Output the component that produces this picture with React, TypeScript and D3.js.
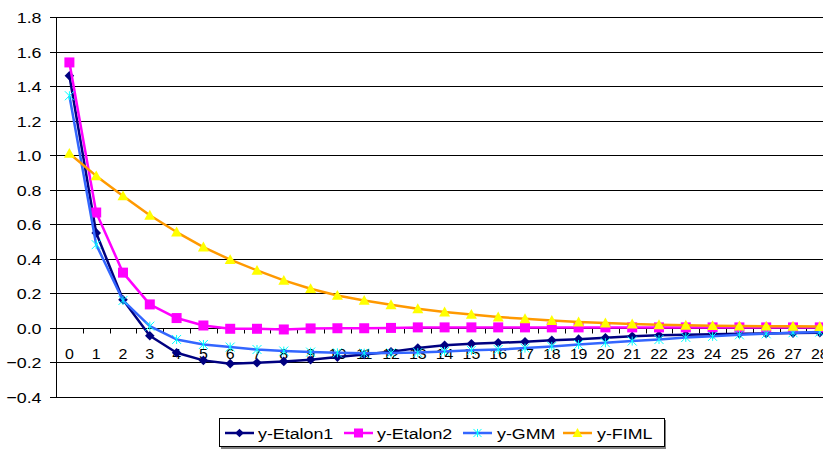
import React from "react";
import * as d3 from "d3";

const categories: number[] = d3.range(0, 29);

const etalon1: number[] = [
  1.46, 0.55, 0.163, -0.045, -0.144, -0.188, -0.207, -0.202, -0.194, -0.184,
  -0.169, -0.154, -0.138, -0.117, -0.101, -0.092, -0.086, -0.08, -0.072, -0.065,
  -0.057, -0.049, -0.043, -0.04, -0.037, -0.034, -0.032, -0.03, -0.028,
];
const etalon2: number[] = [
  1.537, 0.668, 0.32, 0.136, 0.057, 0.014, -0.005, -0.005, -0.009, -0.003,
  -0.002, -0.002, 0.0, 0.003, 0.003, 0.003, 0.003, 0.003, 0.003, 0.003,
  0.003, 0.003, 0.003, 0.003, 0.003, 0.003, 0.003, 0.003, 0.003,
];
const gmm: number[] = [
  1.344, 0.482, 0.159, 0.01, -0.067, -0.096, -0.111, -0.125, -0.134, -0.14,
  -0.144, -0.146, -0.145, -0.143, -0.136, -0.13, -0.125, -0.117, -0.107, -0.096,
  -0.086, -0.076, -0.067, -0.055, -0.049, -0.04, -0.034, -0.028, -0.024,
];
const fiml: number[] = [
  1.01, 0.88, 0.764, 0.652, 0.555, 0.468, 0.395, 0.333, 0.275, 0.227,
  0.188, 0.159, 0.134, 0.111, 0.092, 0.078, 0.063, 0.053, 0.043, 0.034,
  0.028, 0.022, 0.018, 0.015, 0.013, 0.011, 0.01, 0.009, 0.008,
];

const yTicks: number[] = [-0.4, -0.2, 0, 0.2, 0.4, 0.6, 0.8, 1.0, 1.2, 1.4, 1.6, 1.8];
const seriesNames: string[] = ["y-Etalon1", "y-Etalon2", "y-GMM", "y-FIML"];

type Marker = "diamond" | "square" | "cross" | "triangle";
const seriesStyle: { line: string; fill: string; marker: Marker }[] = [
  { line: "#000080", fill: "#000080", marker: "diamond" },
  { line: "#FF00FF", fill: "#FF00FF", marker: "square" },
  { line: "#3366FF", fill: "#00FFFF", marker: "cross" },
  { line: "#FF9900", fill: "#FFFF00", marker: "triangle" },
];
const seriesValues: number[][] = [etalon1, etalon2, gmm, fiml];

const W = 823;
const H = 449;
const plotLeft = 56;
const bandW = 26.8;
const plotTop = 17;
const plotBottom = 397;
const FONT = "'Liberation Sans', Arial, sans-serif";

function MarkerShape({ kind, x, y, fill, scale = 1 }: { kind: Marker; x: number; y: number; fill: string; scale?: number }) {
  const s = scale;
  if (kind === "diamond") {
    const r = 4.8 * s;
    return <path d={`M${x},${y - r}L${x + r},${y}L${x},${y + r}L${x - r},${y}Z`} fill={fill} />;
  }
  if (kind === "square") {
    const r = 5 * s;
    return <rect x={x - r} y={y - r} width={2 * r} height={2 * r} fill={fill} />;
  }
  if (kind === "cross") {
    const r = 4.5 * s;
    return (
      <path
        d={`M${x - r},${y - r}L${x + r},${y + r}M${x - r},${y + r}L${x + r},${y - r}M${x},${y - r}L${x},${y + r}`}
        stroke={fill}
        strokeWidth={1}
        fill="none"
      />
    );
  }
  const r = 5.5 * s;
  return <path d={`M${x},${y - r}L${x + r},${y + r * 0.8}L${x - r},${y + r * 0.8}Z`} fill={fill} />;
}

export default function App() {
  const x = d3
    .scaleBand<number>()
    .domain(categories)
    .range([plotLeft, plotLeft + bandW * categories.length]);
  const cx = (c: number) => (x(c) as number) + x.bandwidth() / 2;
  const y = d3.scaleLinear().domain([-0.4, 1.8]).range([plotBottom, plotTop]);
  const y0 = Math.round(y(0)) + 0.5;

  const line = d3
    .line<number>()
    .x((_, i) => cx(categories[i]))
    .y((v) => y(v));

  const fmt = d3.format(".1f");

  const legendItems = [
    { x0: 225, tx: 258 },
    { x0: 344, tx: 377 },
    { x0: 463, tx: 497 },
    { x0: 563, tx: 597 },
  ];

  return (
    <svg
      width={W}
      height={H}
      style={{ position: "absolute", left: 0, top: 0, background: "#fff" }}
      fontFamily={FONT}
    >
      <rect width={W} height={H} fill="#fff" />
      {/* horizontal gridlines and y tick marks */}
      {yTicks.map((t) => {
        const yy = Math.round(y(t)) + 0.5;
        return (
          <g key={t}>
            <line x1={plotLeft} x2={W} y1={yy} y2={yy} stroke="#000" strokeWidth={1} />
            <line x1={50} x2={plotLeft} y1={yy} y2={yy} stroke="#000" strokeWidth={1} />
            <text
              transform={`translate(41.5,${yy + 5.5}) scale(1.15,1)`}
              textAnchor="end"
              fontSize={15.5}
              fill="#000"
            >
              {fmt(t)}
            </text>
          </g>
        );
      })}
      {/* value axis */}
      <line x1={plotLeft + 0.5} x2={plotLeft + 0.5} y1={plotTop} y2={plotBottom} stroke="#000" />
      {/* category axis at zero */}
      <line x1={plotLeft} x2={W} y1={y0} y2={y0} stroke="#000" />
      {categories.map((c) => {
        const bx = Math.round(x(c) as number) + 0.5;
        return <line key={"t" + c} x1={bx} x2={bx} y1={y0} y2={y0 + 5} stroke="#000" />;
      })}
      {categories.map((c) => (
        <text
          key={"l" + c}
          transform={`translate(${cx(c)},${y0 + 30}) scale(1.1,1)`}
          textAnchor="middle"
          fontSize={14.5}
          fill="#000"
        >
          {c}
        </text>
      ))}
      {/* series */}
      {seriesValues.map((vals, si) => {
        const st = seriesStyle[si];
        return (
          <g key={si}>
            <path d={line(vals) ?? ""} fill="none" stroke={st.line} strokeWidth={2.5} strokeLinejoin="round" />
            {vals.map((v, i) => (
              <MarkerShape key={i} kind={st.marker} x={cx(categories[i])} y={y(v)} fill={st.fill} />
            ))}
          </g>
        );
      })}
      {/* legend */}
      <rect x={221} y={420} width={445} height={29} fill="#808080" />
      <rect x={219.5} y={418.5} width={445} height={28} fill="#fff" stroke="#000" />
      {seriesNames.map((name, i) => {
        const st = seriesStyle[i];
        const it = legendItems[i];
        const ly = 433;
        return (
          <g key={name}>
            <line x1={it.x0} x2={it.x0 + 29} y1={ly} y2={ly} stroke={st.line} strokeWidth={2.5} />
            <MarkerShape kind={st.marker} x={it.x0 + 14.5} y={ly} fill={st.fill} scale={0.9} />
            <text
              transform={`translate(${it.tx},${ly + 6}) scale(1.15,1)`}
              fontSize={15.5}
              fill="#000"
            >
              {name}
            </text>
          </g>
        );
      })}
    </svg>
  );
}
